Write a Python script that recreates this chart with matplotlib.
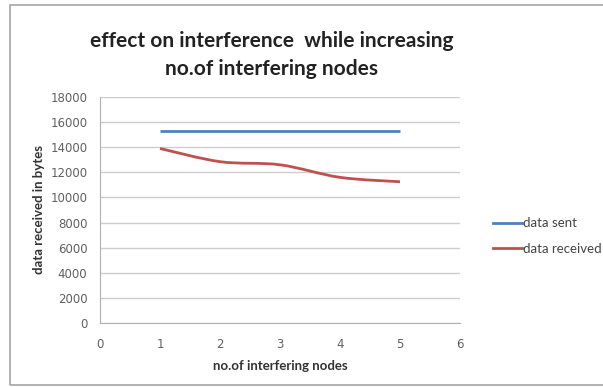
import matplotlib.pyplot as plt
from matplotlib.path import Path
from matplotlib.patches import PathPatch, Rectangle
from matplotlib.lines import Line2D

nodes = [1, 2, 3, 4, 5]
data_sent = [15300, 15300, 15300, 15300, 15300]
data_received = [13900, 12850, 12600, 11600, 11250]

blue = '#4F81BD'
red = '#C0504D'
plt.rcParams['font.family'] = ['Lato', 'DejaVu Sans']


def smooth_path(xs, ys, tension=1/6):
    # Catmull-Rom style bezier through the points, like a smoothed spreadsheet line
    verts = [(xs[0], ys[0])]
    codes = [Path.MOVETO]
    n = len(xs)
    for i in range(n - 1):
        x0, y0 = (xs[i - 1], ys[i - 1]) if i > 0 else (xs[i], ys[i])
        x1, y1 = xs[i], ys[i]
        x2, y2 = xs[i + 1], ys[i + 1]
        x3, y3 = (xs[i + 2], ys[i + 2]) if i + 2 < n else (x2, y2)
        c1 = (x1 + (x2 - x0) * tension, y1 + (y2 - y0) * tension)
        c2 = (x2 - (x3 - x1) * tension, y2 - (y3 - y1) * tension)
        verts += [c1, c2, (x2, y2)]
        codes += [Path.CURVE4] * 3
    return Path(verts, codes)


fig = plt.figure(figsize=(6.03, 3.87), dpi=100)
fig.patch.set_facecolor('white')
fig.patches.append(Rectangle((10 / 603, 2 / 387), 600 / 603, 380 / 387,
                             transform=fig.transFigure, fill=False,
                             edgecolor='#a6a6a6', linewidth=1.2))

ax = fig.add_axes([100 / 603, 1 - 323 / 387, 360 / 603, 226 / 387])
ax.set_xlim(0, 6)
ax.set_ylim(0, 18000)
ax.set_xticks(range(0, 7))
ax.set_yticks(range(0, 18001, 2000))
ax.grid(axis='y', color='#cccccc', linewidth=1.0)
ax.set_axisbelow(True)
for s in ['top', 'right']:
    ax.spines[s].set_visible(False)
for s in ['left', 'bottom']:
    ax.spines[s].set_color('#b0b0b0')
ax.tick_params(length=0, labelcolor='#606060')
ax.tick_params(axis='y', pad=9)
ax.tick_params(axis='x', pad=11)
for lbl in ax.get_xticklabels() + ax.get_yticklabels():
    lbl.set_fontfamily('DejaVu Sans')
    lbl.set_fontsize(8.5)

ax.plot(nodes, data_sent, color=blue, linewidth=2, solid_capstyle='butt')
ax.add_patch(PathPatch(smooth_path(nodes, data_received), fill=False,
                       edgecolor=red, linewidth=2))

ax.set_xlabel('no.of interfering nodes', fontsize=9.5, fontweight='bold',
              color='#333333', labelpad=6)
ax.set_ylabel('data received in bytes', fontsize=9.5, fontweight='bold',
              color='#333333', labelpad=4)

fig.text(0.45, 1 - 55 / 387, 'effect on interference  while increasing\nno.of interfering nodes',
         ha='center', va='center', fontsize=15, fontweight='bold',
         color='#222222', linespacing=1.5)

handles = [Line2D([], [], color=blue, linewidth=2),
           Line2D([], [], color=red, linewidth=2)]
fig.legend(handles, ['data sent', 'data received'], loc='center left',
           bbox_to_anchor=(481 / 603, 1 - 236 / 387), frameon=False,
           fontsize=9.5, handlelength=2.2, handletextpad=0.1, labelspacing=1.0,
           labelcolor='#444444')

fig.savefig('out.png', dpi=100)
